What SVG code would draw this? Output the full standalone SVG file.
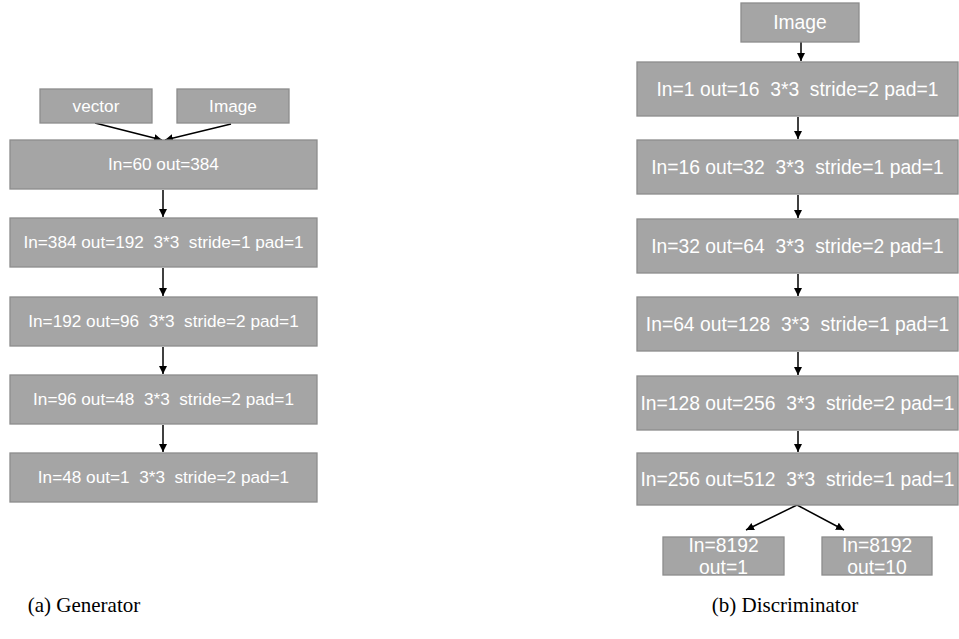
<svg xmlns="http://www.w3.org/2000/svg" width="959" height="639" viewBox="0 0 959 639">
<style>
.box{fill:#a5a5a5;stroke:#8c8c8c;stroke-width:1.3}
.t{fill:#ffffff;font-family:"Liberation Sans",Arial,sans-serif;text-anchor:middle;white-space:pre}
.l{font-size:17.2px}
.r{font-size:19.3px}
.c{font-family:"Liberation Serif","Times New Roman",serif;font-size:21px;fill:#000;text-anchor:middle}
.e{stroke:#000;stroke-width:1.5;fill:none;marker-end:url(#ah)}
</style>
<defs>
<marker id="ah" markerUnits="userSpaceOnUse" markerWidth="10" markerHeight="10" refX="8" refY="4" orient="auto">
<path d="M0,0 L8,4 L0,8 Z" fill="#000"/>
</marker>
</defs>
<rect width="959" height="639" fill="#fff"/>
<g id="connectors">
<line class="e" x1="95" y1="123" x2="162" y2="140"/>
<line class="e" x1="231" y1="124" x2="165" y2="140"/>
<line class="e" x1="163" y1="190" x2="163" y2="217"/>
<line class="e" x1="163" y1="268" x2="163" y2="296"/>
<line class="e" x1="163" y1="347" x2="163" y2="374"/>
<line class="e" x1="163" y1="425" x2="163" y2="452"/>
<line class="e" x1="801" y1="42" x2="801" y2="61"/>
<line class="e" x1="798" y1="117" x2="798" y2="139"/>
<line class="e" x1="798" y1="195" x2="798" y2="218"/>
<line class="e" x1="798" y1="274" x2="798" y2="296"/>
<line class="e" x1="798" y1="352" x2="798" y2="375"/>
<line class="e" x1="798" y1="431" x2="798" y2="452"/>
<line class="e" x1="797" y1="505" x2="746" y2="530"/>
<line class="e" x1="797" y1="505" x2="844" y2="530"/>
</g>
<g id="g-vector"><rect class="box" x="40" y="89" width="112" height="34"/><text class="t l" x="96" y="112">vector</text></g>
<g id="g-image"><rect class="box" x="177" y="89" width="112" height="34"/><text class="t l" x="233" y="112">Image</text></g>
<g id="g1"><rect class="box" x="10" y="140" width="307" height="49"/><text class="t l" x="163.5" y="170" xml:space="preserve">In=60 out=384</text></g>
<g id="g2"><rect class="box" x="10" y="218" width="307" height="49"/><text class="t l" x="163.5" y="248" xml:space="preserve">In=384 out=192  3*3  stride=1 pad=1</text></g>
<g id="g3"><rect class="box" x="10" y="297" width="307" height="49"/><text class="t l" x="163.5" y="327" xml:space="preserve">In=192 out=96  3*3  stride=2 pad=1</text></g>
<g id="g4"><rect class="box" x="10" y="375" width="307" height="49"/><text class="t l" x="163.5" y="405" xml:space="preserve">In=96 out=48  3*3  stride=2 pad=1</text></g>
<g id="g5"><rect class="box" x="10" y="453" width="307" height="49"/><text class="t l" x="163.5" y="483" xml:space="preserve">In=48 out=1  3*3  stride=2 pad=1</text></g>
<g id="d-image"><rect class="box" x="741" y="3" width="118" height="39"/><text class="t r" x="800" y="29">Image</text></g>
<g id="d1"><rect class="box" x="637" y="62" width="321" height="54"/><text class="t r" x="797.5" y="96" xml:space="preserve">In=1 out=16  3*3  stride=2 pad=1</text></g>
<g id="d2"><rect class="box" x="637" y="140" width="321" height="54"/><text class="t r" x="797.5" y="174" xml:space="preserve">In=16 out=32  3*3  stride=1 pad=1</text></g>
<g id="d3"><rect class="box" x="637" y="219" width="321" height="54"/><text class="t r" x="797.5" y="253" xml:space="preserve">In=32 out=64  3*3  stride=2 pad=1</text></g>
<g id="d4"><rect class="box" x="637" y="297" width="321" height="54"/><text class="t r" x="797.5" y="331" xml:space="preserve">In=64 out=128  3*3  stride=1 pad=1</text></g>
<g id="d5"><rect class="box" x="637" y="376" width="321" height="54"/><text class="t r" x="797.5" y="410" xml:space="preserve">In=128 out=256  3*3  stride=2 pad=1</text></g>
<g id="d6"><rect class="box" x="637" y="453" width="321" height="52"/><text class="t r" x="797.5" y="486" xml:space="preserve">In=256 out=512  3*3  stride=1 pad=1</text></g>
<g id="d7"><rect class="box" x="663" y="537" width="121" height="38"/><text class="t r" x="723.5" y="552">In=8192</text><text class="t r" x="723.5" y="574">out=1</text></g>
<g id="d8"><rect class="box" x="822" y="537" width="110" height="38"/><text class="t r" x="877" y="552">In=8192</text><text class="t r" x="877" y="574">out=10</text></g>
<text class="c" x="84" y="612">(a) Generator</text>
<text class="c" x="785" y="612">(b) Discriminator</text>
</svg>
